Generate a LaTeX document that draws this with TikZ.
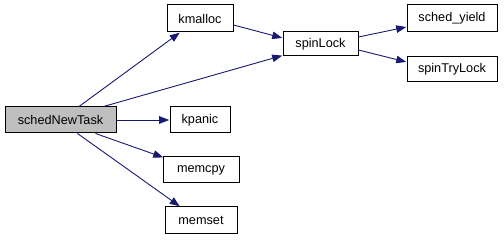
\documentclass[tikz,border=0pt]{standalone}
\usepackage{fontspec}
\setmainfont{Liberation Sans}
\usetikzlibrary{arrows.meta}
\definecolor{edgeblue}{HTML}{191970}
\definecolor{rootgray}{HTML}{BFBFBF}
\begin{document}
\begin{tikzpicture}[x=1pt,y=-1pt,
  fn/.style={draw=black,line width=1pt,fill=white,inner sep=0pt,
    font=\fontsize{12.7}{14}\selectfont},
  call/.style={draw=edgeblue,line width=0.9pt,
    -{Triangle[length=10pt,width=7.5pt]},shorten >=0.3pt}]
\useasboundingbox (0,0) rectangle (504,240);
% functions
\node[fn,fill=rootgray,minimum width=111pt,minimum height=26pt] (s) at (60.5,120) {schedNewTask};
\node[fn,minimum width=66pt,minimum height=27pt] (km) at (200,18.5) {kmalloc};
\node[fn,minimum width=60pt,minimum height=26pt] (kp) at (200,120) {kpanic};
\node[fn,minimum width=76pt,minimum height=26pt] (mc) at (201,170) {memcpy};
\node[fn,minimum width=72pt,minimum height=27pt] (ms) at (201,220.5) {memset};
\node[fn,minimum width=75pt,minimum height=24pt] (sl) at (320.5,44) {spinLock};
\node[fn,minimum width=90pt,minimum height=27pt] (sy) at (452,18.5) {sched\_yield};
\node[fn,minimum width=90pt,minimum height=25pt] (st) at (452,69.5) {spinTryLock};
% call edges
\draw[call] ([xshift=18.5pt]s.north) -- ([xshift=-20pt]km.south);
\draw[call] ([xshift=43pt]s.north) -- ([yshift=1pt]sl.south west);
\draw[call] (s.east) -- (kp.west);
\draw[call] ([xshift=35pt]s.south) -- ([xshift=1pt,yshift=-1pt]mc.north west);
\draw[call] ([xshift=17pt]s.south) -- ([xshift=-21pt]ms.north);
\draw[call] ([yshift=-6.5pt]km.east) -- ([yshift=6pt]sl.west);
\draw[call] ([yshift=7pt]sl.east) -- ([yshift=-8.5pt]sy.west);
\draw[call] ([yshift=-6pt]sl.east) -- ([yshift=7.5pt]st.west);
\end{tikzpicture}
\end{document}
